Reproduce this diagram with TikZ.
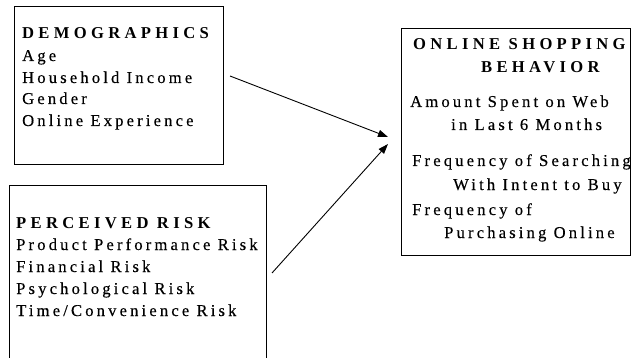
\documentclass[tikz,border=0pt]{standalone}
\usepackage{fontspec}
\setmainfont{Liberation Serif}
\newfontfamily\bodyfont[LetterSpace=19,FakeBold=0.3]{Liberation Serif}
\newfontfamily\headfont[LetterSpace=26]{Liberation Serif}
\usetikzlibrary{arrows.meta}
\tikzset{
  box/.style={draw=black, line width=0.9pt, anchor=north west, inner sep=0pt, fill=none},
  body/.style={anchor=base west, inner sep=0pt, font=\fontsize{16.6}{19}\bodyfont},
  head/.style={anchor=base west, inner sep=0pt, font=\fontsize{16.6}{19}\headfont\bfseries},
  link/.style={line width=0.9pt, -{Triangle[length=10pt,width=7pt]}}
}
\begin{document}
\begin{tikzpicture}[x=1pt,y=-1pt]
\clip (0,0) rectangle (642,358);
\fill[white] (0,0) rectangle (642,358);
% boxes
\node[box, minimum width=209pt, minimum height=158pt] (demo) at (14,6) {};
\node[box, minimum width=257pt, minimum height=185pt] (risk) at (9,185) {};
\node[box, minimum width=229pt, minimum height=227pt] (osb) at (401,28) {};
% demographics
\node[head] (d0) at (22,39) {DEMOGRAPHICS};
\node[body] (d1) at (22,61) {Age};
\node[body] (d2) at (22,83) {Household Income};
\node[body] (d3) at (22,104) {Gender};
\node[body] (d4) at (22,126) {Online Experience};
% perceived risk
\node[head] (p0) at (16,228) {PERCEIVED RISK};
\node[body] (p1) at (16,250) {Product Performance Risk};
\node[body] (p2) at (16,272) {Financial Risk};
\node[body] (p3) at (16,294) {Psychological Risk};
\node[body] (p4) at (16,316) {Time/Convenience Risk};
% online shopping behavior
\node[head] (o0) at (413,50) {ONLINE SHOPPING};
\node[head] (o1) at (481,73) {BEHAVIOR};
\node[body] (o2) at (410,107) {Amount Spent on Web};
\node[body] (o3) at (451,130) {in Last 6 Months};
\node[body] (o4) at (412,166) {Frequency of Searching};
\node[body] (o5) at (453,190) {With Intent to Buy};
\node[body] (o6) at (412,215) {Frequency of};
\node[body] (o7) at (444,238) {Purchasing Online};
% arrows
\coordinate (a1s) at (230,76);
\coordinate (a1e) at (388,137);
\coordinate (a2s) at (272,273);
\coordinate (a2e) at (388,144);
\draw[link] (a1s) -- (a1e);
\draw[link] (a2s) -- (a2e);
\end{tikzpicture}
\end{document}
